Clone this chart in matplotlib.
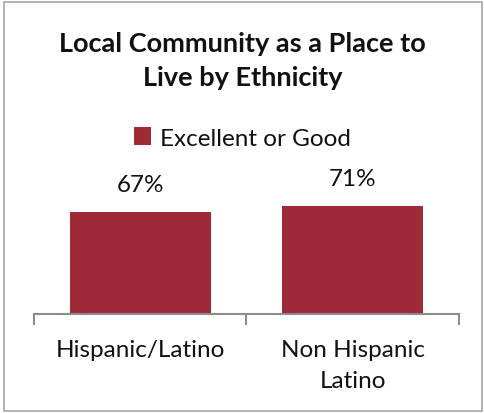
import matplotlib.pyplot as plt
from matplotlib.patches import Rectangle

categories = ['Hispanic/Latino', 'Non Hispanic\nLatino']
values = [67, 71]
series_name = 'Excellent or Good'
title = 'Local Community as a Place to\nLive by Ethnicity'

bar_color = '#9e2937'
axis_color = '#8c8c8c'

plt.rcParams['font.family'] = ['Lato', 'DejaVu Sans']

fig = plt.figure(figsize=(4.85, 4.14), dpi=100)
W, H = 485, 414

# chart border
fig.patches.append(Rectangle((4 / W, 2 / H), 478 / W, 409 / H, transform=fig.transFigure,
                             fill=False, edgecolor='#a6a6a6', linewidth=1.2))

ax = fig.add_axes([34 / W, (H - 315) / H, 425 / W, (315 - 200) / H])
x = range(len(values))
bars = ax.bar(x, values, width=0.665, color=bar_color, label=series_name)
ax.set_xlim(-0.5, len(values) - 0.5)
ax.set_ylim(0, 75.3)

for b, v in zip(bars, values):
    ax.annotate(f'{v}%', (b.get_x() + b.get_width() / 2, v), xytext=(0, 15),
                textcoords='offset points', ha='center', va='baseline',
                fontsize=17.5, color='#111111')

for s in ['top', 'right', 'left']:
    ax.spines[s].set_visible(False)
ax.spines['bottom'].set_color(axis_color)
ax.spines['bottom'].set_linewidth(1.5)
ax.set_yticks([])
ax.set_xticks([-0.5, 0.5, 1.5])
ax.set_xticklabels([])
ax.tick_params(axis='x', length=8, width=1.5, color=axis_color)
for i, c in enumerate(categories):
    ax.annotate(c, (i, 0), xytext=(0, -18), textcoords='offset points',
                ha='center', va='top', fontsize=17.5, color='#111111',
                linespacing=1.6)

fig.text(0.5, 1 - 32 / H, title, ha='center', va='top', fontsize=19.5,
         fontweight='bold', color='#111111', linespacing=1.5)

fig.legend(loc='center', bbox_to_anchor=(0.5, 1 - 139 / H), frameon=False,
           fontsize=17.5, handlelength=0.7, handleheight=0.7, handletextpad=0.4,
           labelcolor='#111111')

fig.savefig('out.png', dpi=100)
